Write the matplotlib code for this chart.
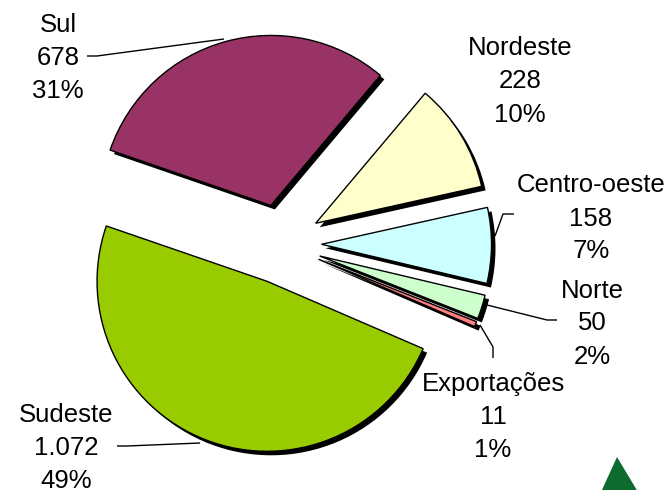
import matplotlib
matplotlib.use("Agg")
import matplotlib.pyplot as plt
from matplotlib.patches import Polygon

# ---- data ----
regions = ["Sul", "Nordeste", "Centro-oeste", "Norte", "Exportações", "Sudeste"]
values = [678, 228, 158, 50, 11, 1072]
colors = ["#993366", "#FFFFCC", "#CCFFFF", "#CCFFCC", "#FF8080", "#99CC00"]

# ---- layout (image pixel coords, y down) ----
W, H = 666, 490
label_pos = [(58, 56), (520, 79), (591, 216), (592, 321), (493, 414), (66, 445)]
leaders = [
    [(87, 56), (97, 56), (224, 39)],
    None,
    [(514, 214), (503, 214), (495, 236)],
    [(557, 320), (547, 320), (487, 305)],
    [(493, 358), (493, 347), (480, 325)],
    [(117, 446), (127, 446), (200, 443)],
]
cx, cy = 281.5, 244.0
R = 170
EXPL = 40
SH = 4

plt.rcParams['font.family'] = ['Liberation Sans', 'DejaVu Sans']
fig = plt.figure(figsize=(W / 100, H / 100), dpi=100)
ax = fig.add_axes([0, 0, 1, 1])

total = sum(values)
explode = [EXPL] * len(values)

# shadow
ax.pie(values, explode=explode, center=(cx + SH, H - cy - SH), radius=R,
       colors=["black"] * len(values), startangle=161, counterclock=False,
       wedgeprops=dict(linewidth=0), frame=False)
# main pie
ax.pie(values, explode=explode, center=(cx, H - cy), radius=R,
       colors=colors, startangle=161, counterclock=False,
       wedgeprops=dict(linewidth=1.0, edgecolor="black"), frame=False)

FS = 18.5
GAP = 33.0
for name, v, (lx, ly), lead in zip(regions, values, label_pos, leaders):
    vtxt = f"{v:,}".replace(",", ".")
    ptxt = f"{round(v / total * 100)}%"
    for i, t in enumerate([name, vtxt, ptxt]):
        base = ly + 9.5 + (i - 1) * GAP
        ax.text(lx, H - base, t, ha="center", va="baseline", fontsize=FS, color="black")
    if lead:
        xs = [p[0] for p in lead]
        ys = [H - p[1] for p in lead]
        ax.plot(xs, ys, color="black", lw=1.0, solid_capstyle="butt")

# logo triangle fragment
ax.add_patch(Polygon([(601, H - 492), (617, H - 457), (638, H - 492)], closed=True,
                     facecolor="#0E6B30", edgecolor="none"))

ax.set_xlim(0, W)
ax.set_ylim(0, H)
ax.set_aspect("auto")
ax.axis("off")
fig.savefig("out.png", dpi=100, facecolor="white")
